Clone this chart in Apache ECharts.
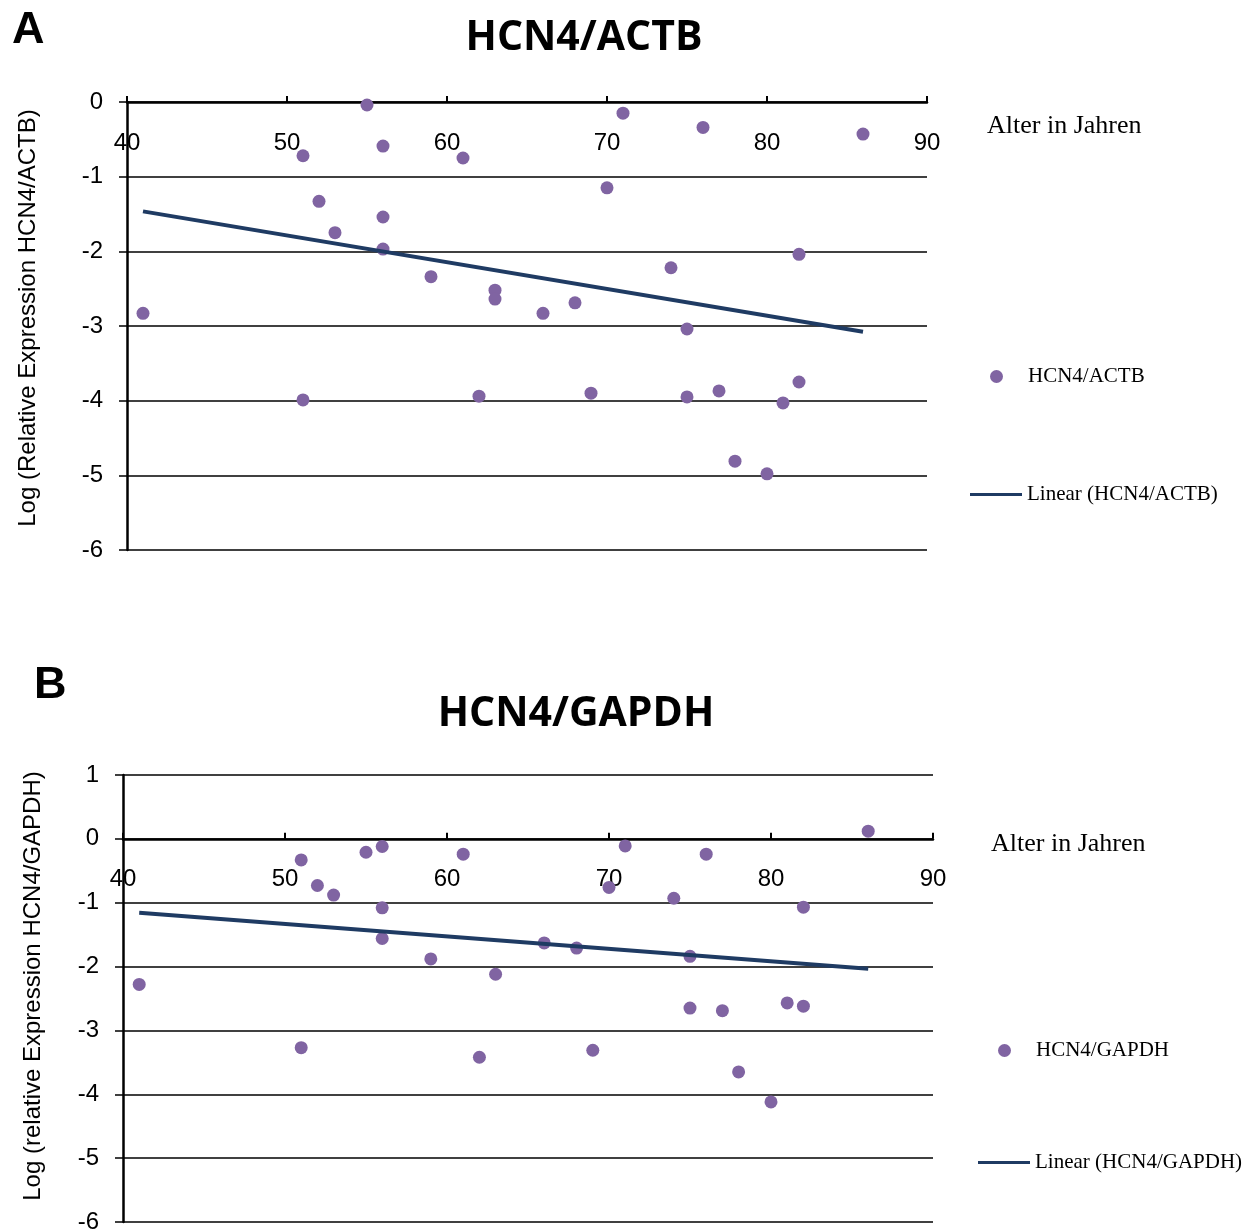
<!DOCTYPE html>
<html>
<head>
<meta charset="utf-8">
<title>HCN4 expression vs. age</title>
<script src="https://cdn.jsdelivr.net/npm/echarts@6/dist/echarts.min.js"></script>
<style>
  html, body { margin: 0; padding: 0; background: #ffffff; }
  #chart { width: 1260px; height: 1231px; }
</style>
</head>
<body>
<div id="chart"></div>
<script>
// Panel A: HCN4 normalised to ACTB
const ageA = [41, 51, 51, 52, 53, 55, 56, 56, 56, 59, 61, 62, 63, 63, 66,
              68, 69, 70, 71, 74, 75, 75, 76, 77, 78, 80, 81, 82, 82, 86];
const logExprA = [-2.83, -0.72, -3.99, -1.33, -1.75, -0.04, -0.59, -1.54, -1.97, -2.34,
                  -0.75, -3.94, -2.52, -2.64, -2.83, -2.69, -3.90, -1.15, -0.15, -2.22,
                  -3.04, -3.95, -0.34, -3.87, -4.81, -4.98, -4.03, -2.04, -3.75, -0.43];

// Panel B: HCN4 normalised to GAPDH
const ageB = [41, 51, 51, 52, 53, 55, 56, 56, 56, 59, 61, 62, 63, 66, 68,
              69, 70, 71, 74, 75, 75, 76, 77, 78, 80, 81, 82, 82, 86];
const logExprB = [-2.28, -0.33, -3.27, -0.73, -0.88, -0.21, -0.12, -1.08, -1.56, -1.88,
                  -0.24, -3.42, -2.12, -1.63, -1.71, -3.31, -0.76, -0.11, -0.93, -1.84,
                  -2.65, -0.24, -2.69, -3.65, -4.12, -2.57, -1.07, -2.62, 0.12];

const ageTicks = [40, 50, 60, 70, 80, 90];
const yRangeA = [-6, 0];
const yRangeB = [-6, 1];

const nameA = 'HCN4/ACTB';
const nameB = 'HCN4/GAPDH';
const trendA = 'Linear (HCN4/ACTB)';
const trendB = 'Linear (HCN4/GAPDH)';
const yTitleA = 'Log (Relative Expression HCN4/ACTB)';
const yTitleB = 'Log (relative Expression HCN4/GAPDH)';
const xTitle = 'Alter in Jahren';

const DOT = '#8064A2';
const TREND = '#1F3B63';
const SANS = "'Liberation Sans', Arial, sans-serif";
const SERIF = "'Liberation Serif', 'Times New Roman', serif";

// least-squares line through the points, drawn from the smallest to the largest age
function linearFit(xs, ys) {
  const n = xs.length;
  const mx = xs.reduce((a, b) => a + b, 0) / n;
  const my = ys.reduce((a, b) => a + b, 0) / n;
  let sxy = 0, sxx = 0;
  for (let i = 0; i < n; i++) {
    sxy += (xs[i] - mx) * (ys[i] - my);
    sxx += (xs[i] - mx) * (xs[i] - mx);
  }
  const slope = sxy / sxx;
  const icpt = my - slope * mx;
  const x0 = Math.min(...xs), x1 = Math.max(...xs);
  return [[x0, icpt + slope * x0], [x1, icpt + slope * x1]];
}

// age axis: line crosses the value axis at 0, ticks point up, labels sit below the line.
// labelMargin is measured from the top edge of the plot area.
function xAxisCfg(gridIndex, labelMargin) {
  return {
    gridIndex, type: 'value', position: 'top',
    min: ageTicks[0], max: ageTicks[ageTicks.length - 1], interval: 10,
    axisLine: { show: true, onZero: true, lineStyle: { color: '#000', width: 2.5 } },
    axisTick: { show: true, length: 6, lineStyle: { color: '#000', width: 2 } },
    axisLabel: { inside: true, margin: labelMargin, fontFamily: SANS, fontSize: 24, color: '#000' },
    splitLine: { show: false }
  };
}

function yAxisCfg(gridIndex, range) {
  return {
    gridIndex, type: 'value', position: 'left',
    min: range[0], max: range[1], interval: 1,
    axisLine: { show: true, onZero: false, lineStyle: { color: '#000', width: 2.5 } },
    axisTick: { show: true, length: 8, lineStyle: { color: '#000', width: 1.5 } },
    axisLabel: { margin: 24, fontFamily: SANS, fontSize: 24, color: '#000' },
    splitLine: { show: true, lineStyle: { color: '#000', width: 1.5 } }
  };
}

function legendCfg(name, icon, w, h, left, top) {
  return {
    data: [name], icon, itemWidth: w, itemHeight: h, left, top,
    orient: 'vertical', selectedMode: false, padding: 0,
    textStyle: { fontFamily: SERIF, fontSize: 21, color: '#000',
                 padding: icon === 'circle' ? [0, 0, 0, 20] : 0 }
  };
}

function rotatedTitle(text, x, y) {
  return { type: 'text', x, y, rotation: Math.PI / 2,
    style: { text, fontFamily: SANS, fontSize: 24, fill: '#000',
             align: 'center', verticalAlign: 'middle' } };
}

const chart = echarts.init(document.getElementById('chart'), null, { renderer: 'canvas' });

chart.setOption({
  backgroundColor: '#ffffff',
  animation: false,
  title: [
    { text: nameA, left: 579, top: 13, textAlign: 'center',
      textStyle: { fontFamily: "'Open Sans', sans-serif", fontWeight: 'bold', fontSize: 41, color: '#000' } },
    { text: nameB, left: 571, top: 689, textAlign: 'center',
      textStyle: { fontFamily: "'Open Sans', sans-serif", fontWeight: 'bold', fontSize: 41, color: '#000' } }
  ],
  grid: [
    { left: 127, right: 333, top: 102, height: 448, containLabel: false, outerBoundsMode: 'none' },
    { left: 123, right: 327, top: 775, height: 447, containLabel: false, outerBoundsMode: 'none' }
  ],
  xAxis: [xAxisCfg(0, 29), xAxisCfg(1, 92)],
  yAxis: [yAxisCfg(0, yRangeA), yAxisCfg(1, yRangeB)],
  legend: [
    legendCfg(nameA, 'circle', 13, 13, 990, 366),
    legendCfg(trendA, 'rect', 52, 3, 970, 484),
    legendCfg(nameB, 'circle', 13, 13, 998, 1040),
    legendCfg(trendB, 'rect', 52, 3, 978, 1152)
  ],
  graphic: [
    { type: 'text', left: 12, top: 8,
      style: { text: 'A', fontFamily: SANS, fontWeight: 'bold', fontSize: 45, fill: '#000' } },
    { type: 'text', left: 34, top: 663,
      style: { text: 'B', fontFamily: SANS, fontWeight: 'bold', fontSize: 45, fill: '#000' } },
    { type: 'text', left: 987, top: 113,
      style: { text: xTitle, fontFamily: SERIF, fontSize: 26, fill: '#000' } },
    { type: 'text', left: 991, top: 831,
      style: { text: xTitle, fontFamily: SERIF, fontSize: 26, fill: '#000' } },
    rotatedTitle(yTitleA, 28, 318),
    rotatedTitle(yTitleB, 33, 986)
  ],
  series: [
    { name: nameA, type: 'scatter', xAxisIndex: 0, yAxisIndex: 0,
      symbol: 'circle', symbolSize: 13, itemStyle: { color: DOT, opacity: 1 },
      data: ageA.map((a, i) => [a, logExprA[i]]) },
    { name: trendA, type: 'line', xAxisIndex: 0, yAxisIndex: 0,
      showSymbol: false, symbol: 'none', lineStyle: { color: TREND, width: 4 },
      itemStyle: { color: TREND }, z: 3,
      data: linearFit(ageA, logExprA) },
    { name: nameB, type: 'scatter', xAxisIndex: 1, yAxisIndex: 1,
      symbol: 'circle', symbolSize: 13, itemStyle: { color: DOT, opacity: 1 },
      data: ageB.map((a, i) => [a, logExprB[i]]) },
    { name: trendB, type: 'line', xAxisIndex: 1, yAxisIndex: 1,
      showSymbol: false, symbol: 'none', lineStyle: { color: TREND, width: 4 },
      itemStyle: { color: TREND }, z: 3,
      data: linearFit(ageB, logExprB) }
  ]
});
</script>
</body>
</html>
